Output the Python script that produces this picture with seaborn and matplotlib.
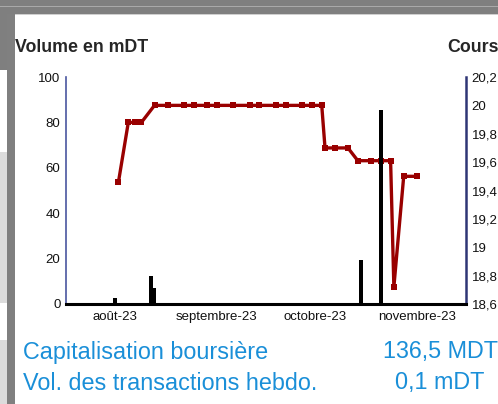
import pandas as pd
import matplotlib
matplotlib.use("Agg")
import matplotlib.pyplot as plt
from matplotlib.patches import Rectangle
import seaborn as sns

# cours (right axis)
price_dates = ["2023-08-02", "2023-08-05", "2023-08-07", "2023-08-09", "2023-08-13",
               "2023-08-17", "2023-08-22", "2023-08-25", "2023-08-29", "2023-09-01",
               "2023-09-06", "2023-09-11", "2023-09-14", "2023-09-19", "2023-09-22",
               "2023-09-27", "2023-09-30", "2023-10-03", "2023-10-04", "2023-10-07",
               "2023-10-11", "2023-10-14", "2023-10-18", "2023-10-21", "2023-10-24",
               "2023-10-25", "2023-10-28", "2023-11-01"]
prices = [19.46, 19.88, 19.88, 19.88, 20.0,
          20.0, 20.0, 20.0, 20.0, 20.0,
          20.0, 20.0, 20.0, 20.0, 20.0,
          20.0, 20.0, 20.0, 19.70, 19.70,
          19.70, 19.61, 19.61, 19.61, 19.61,
          18.72, 19.50, 19.50]

# volume en mDT (left axis)
vol_dates = ["2023-08-01", "2023-08-09", "2023-08-12", "2023-08-13",
             "2023-10-04", "2023-10-14", "2023-10-15", "2023-10-21"]
volumes = [2.5, 0.6, 12.3, 7.2, 0.6, 0.5, 19.4, 85.5]

month_ticks = ["2023-08-01", "2023-09-01", "2023-10-01", "2023-11-01"]
month_labels = ["août-23", "septembre-23", "octobre-23", "novembre-23"]
vol_ticks = [0, 20, 40, 60, 80, 100]
price_ticks = [18.6, 18.8, 19.0, 19.2, 19.4, 19.6, 19.8, 20.0, 20.2]
price_labels = ["18,6", "18,8", "19", "19,2", "19,4", "19,6", "19,8", "20", "20,2"]

df_price = pd.DataFrame({"Date": pd.to_datetime(price_dates), "Cours": prices})
df_vol = pd.DataFrame({"Date": pd.to_datetime(vol_dates), "Volume": volumes})

sns.set_style("white")
plt.rcParams["font.family"] = ["Liberation Sans", "DejaVu Sans"]

W, H = 498, 404
fig = plt.figure(figsize=(W / 100, H / 100), dpi=100)
fig.patch.set_facecolor("white")


def rect(x0, y0, x1, y1, color):
    fig.patches.append(Rectangle((x0 / W, 1 - y1 / H), (x1 - x0) / W, (y1 - y0) / H,
                                 transform=fig.transFigure, color=color, lw=0, zorder=0))


# window frame of the screenshot
rect(0, 0, W, 14, "#7f7f7f")
rect(0, 6, W, 7, "#a9a9a9")
rect(0, 14, 7, 70, "#7f7f7f")
rect(0, 152, 7, 303, "#dcdcdc")
rect(0, 340, 7, H, "#dcdcdc")
rect(7, 14, 15, H, "#808080")
rect(15, 14, W, 15, "#cfcfcf")

ax = fig.add_axes([66 / W, 1 - 304 / H, 400 / W, 227 / H])
ax2 = ax.twinx()

ax.bar(df_vol["Date"], df_vol["Volume"], width=1.2, color="black", lw=0)
sns.lineplot(data=df_price, x="Date", y="Cours", ax=ax2, color="#990000",
             lw=2.4, marker="s", markersize=4.2, markeredgewidth=0)

# bars over the line
ax.set_zorder(ax2.get_zorder() + 1)
ax.patch.set_visible(False)

ax.set_xlim(pd.Timestamp("2023-07-17"), pd.Timestamp("2023-11-16"))
ax.set_ylim(0, 100)
ax2.set_ylim(18.6, 20.2)

ax.set_xticks(pd.to_datetime(month_ticks))
ax.set_xticklabels(month_labels)
ax.set_yticks(vol_ticks)
ax2.set_yticks(price_ticks)
ax2.set_yticklabels(price_labels)
ax.set_xlabel("")
ax.set_ylabel("")
ax2.set_xlabel("")
ax2.set_ylabel("")

ax.tick_params(axis="both", length=0, labelsize=9.5, colors="#111111")
ax.tick_params(axis="x", pad=5)
ax.tick_params(axis="y", pad=4)
ax2.tick_params(axis="y", length=0, labelsize=9.5, colors="#111111", pad=4)

for s in ["top", "right"]:
    ax.spines[s].set_visible(False)
ax.spines["left"].set_color("#4a56a0")
ax.spines["left"].set_linewidth(1.2)
ax.spines["bottom"].set_color("black")
ax.spines["bottom"].set_linewidth(2.2)
for s in ["top", "left", "bottom"]:
    ax2.spines[s].set_visible(False)
ax2.spines["right"].set_color("#2e3575")
ax2.spines["right"].set_linewidth(1.8)

fig.text(15 / W, 1 - 52 / H, "Volume en mDT", fontsize=12.8, fontweight="bold",
         va="baseline", ha="left")
fig.text(447 / W, 1 - 52 / H, "Cours", fontsize=12.8, fontweight="bold",
         va="baseline", ha="left")

blue = "#1a8fd8"
fig.text(23 / W, 1 - 359 / H, "Capitalisation boursière", fontsize=16.8, color=blue,
         va="baseline", ha="left")
fig.text(23 / W, 1 - 390 / H, "Vol. des transactions hebdo.", fontsize=16.8, color=blue,
         va="baseline", ha="left")
fig.text(440 / W, 1 - 358 / H, "136,5 MDT", fontsize=16.8, color=blue,
         va="baseline", ha="center")
fig.text(440 / W, 1 - 389 / H, "0,1 mDT", fontsize=16.8, color=blue,
         va="baseline", ha="center")

fig.savefig("out.png", dpi=100)
